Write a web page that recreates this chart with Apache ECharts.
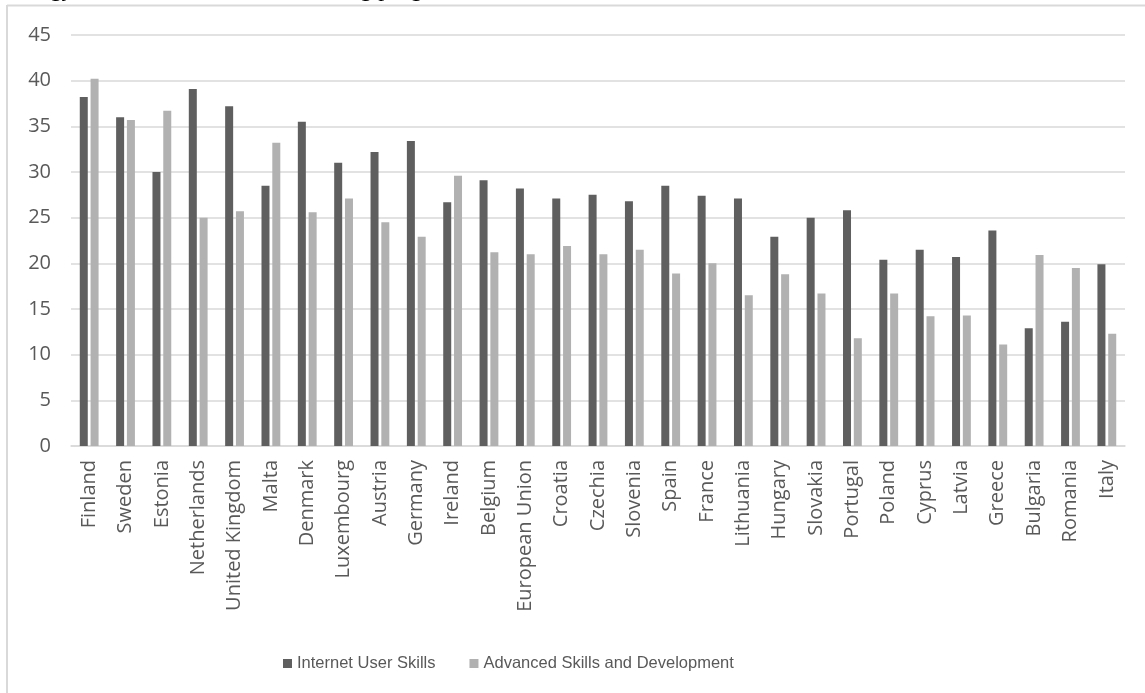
<!DOCTYPE html>
<html>
<head>
<meta charset="utf-8">
<script src="https://cdn.jsdelivr.net/npm/echarts@6/dist/echarts.min.js"></script>
<style>
  html, body { margin: 0; padding: 0; background: #ffffff; }
  #chart { width: 1145px; height: 693px; }
</style>
</head>
<body>
<div id="chart"></div>
<script>
// Countries, ordered as in the ranking
const countries = [
  'Finland', 'Sweden', 'Estonia', 'Netherlands', 'United Kingdom', 'Malta',
  'Denmark', 'Luxembourg', 'Austria', 'Germany', 'Ireland', 'Belgium',
  'European Union', 'Croatia', 'Czechia', 'Slovenia', 'Spain', 'France',
  'Lithuania', 'Hungary', 'Slovakia', 'Portugal', 'Poland', 'Cyprus',
  'Latvia', 'Greece', 'Bulgaria', 'Romania', 'Italy'
];

// Internet User Skills score per country
const internetUserSkills = [
  38.2, 36.0, 30.0, 39.1, 37.2, 28.5,
  35.5, 31.0, 32.2, 33.4, 26.7, 29.1,
  28.2, 27.1, 27.5, 26.8, 28.5, 27.4,
  27.1, 22.9, 25.0, 25.8, 20.4, 21.5,
  20.7, 23.6, 12.9, 13.6, 19.9
];

// Advanced Skills and Development score per country
const advancedSkills = [
  40.2, 35.7, 36.7, 25.0, 25.7, 33.2,
  25.6, 27.1, 24.5, 22.9, 29.6, 21.2,
  21.0, 21.9, 21.0, 21.5, 18.9, 20.0,
  16.5, 18.8, 16.7, 11.8, 16.7, 14.2,
  14.3, 11.1, 20.9, 19.5, 12.3
];

const seriesNames = ['Internet User Skills', 'Advanced Skills and Development'];
const yTicks = { min: 0, max: 45, step: 5 };

const chart = echarts.init(document.getElementById('chart'), null, { renderer: 'canvas' });

const textColor = '#595959';
const gridColor = '#d9d9d9';

chart.setOption({
  backgroundColor: '#ffffff',
  animation: false,
  textStyle: { fontFamily: 'Open Sans' },
  grid: { left: 71, right: 20, top: 35, bottom: 247, containLabel: false },
  legend: {
    data: seriesNames,
    left: 278,
    top: 650,
    icon: 'rect',
    itemWidth: 9,
    itemHeight: 9,
    itemGap: 34,
    textStyle: {
      color: textColor,
      fontSize: 16.5,
      fontFamily: '"Liberation Sans", sans-serif'
    }
  },
  xAxis: {
    type: 'category',
    data: countries,
    axisLine: { show: true, lineStyle: { color: gridColor, width: 1.5 } },
    axisTick: { show: false },
    axisLabel: {
      rotate: 90,
      interval: 0,
      margin: 14,
      color: textColor,
      fontSize: 20,
      fontFamily: 'Open Sans'
    }
  },
  yAxis: {
    type: 'value',
    min: yTicks.min,
    max: yTicks.max,
    interval: yTicks.step,
    axisLine: { show: false },
    axisTick: { show: false },
    splitLine: { lineStyle: { color: gridColor, width: 1.5 } },
    axisLabel: {
      margin: 20,
      color: textColor,
      fontSize: 20,
      fontFamily: 'Open Sans'
    }
  },
  series: [
    {
      name: seriesNames[0],
      type: 'bar',
      data: internetUserSkills,
      barWidth: 8,
      barGap: '35%',
      itemStyle: { color: '#5f5f5f' }
    },
    {
      name: seriesNames[1],
      type: 'bar',
      data: advancedSkills,
      barWidth: 8,
      barGap: '35%',
      itemStyle: { color: '#b1b1b1' }
    }
  ],
  graphic: [
    // frame edges of the chart box
    { type: 'line', shape: { x1: 7, y1: 5.5, x2: 1145, y2: 5.5 }, style: { stroke: gridColor, lineWidth: 2 } },
    { type: 'line', shape: { x1: 7, y1: 5, x2: 7, y2: 693 }, style: { stroke: gridColor, lineWidth: 2 } },
    // running text of the page above the chart box
    { type: 'text', left: 40, top: -22, style: { text: 'ogy', font: 'italic 24px "Liberation Serif"', fill: '#000' } },
    { type: 'text', left: 350, top: -22, style: { text: 'ng progra', font: 'italic 24px "Liberation Serif"', fill: '#000' } }
  ]
});
</script>
</body>
</html>
